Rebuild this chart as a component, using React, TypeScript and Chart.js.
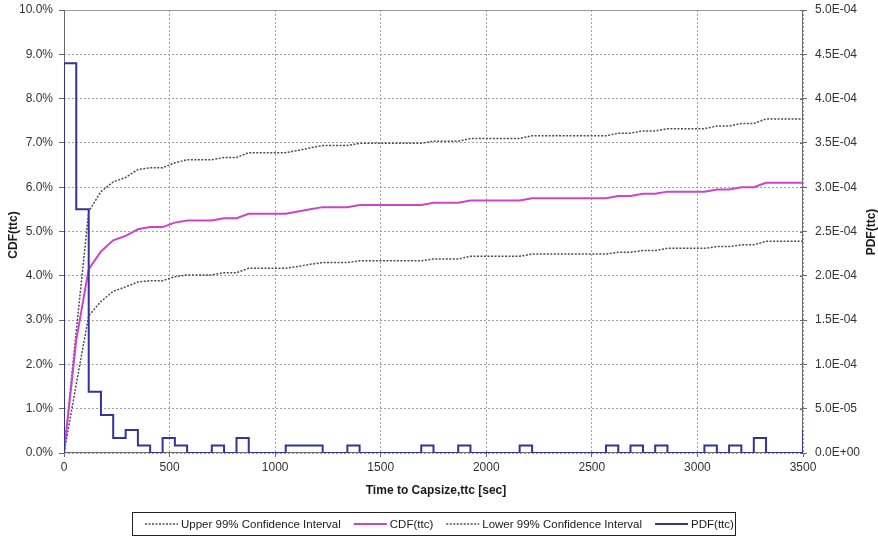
import { useEffect, useRef } from 'react';
import { Chart, registerables } from 'chart.js';

Chart.register(...registerables);

// ---- Data ----
const timeSec = [
  0, 58, 117, 175, 233, 292, 350, 408, 467, 525,
  583, 642, 700, 758, 817, 875, 933, 992, 1050, 1108,
  1167, 1225, 1283, 1342, 1400, 1458, 1517, 1575, 1633, 1692,
  1750, 1808, 1867, 1925, 1983, 2042, 2100, 2158, 2217, 2275,
  2333, 2392, 2450, 2508, 2567, 2625, 2683, 2742, 2800, 2858,
  2917, 2975, 3033, 3092, 3150, 3208, 3267, 3325, 3383, 3442,
  3500,
];

const cdfPct = [
  0, 2.55, 4.15, 4.55, 4.8, 4.9, 5.05, 5.1, 5.1, 5.2,
  5.25, 5.25, 5.25, 5.3, 5.3, 5.4, 5.4, 5.4, 5.4, 5.45,
  5.5, 5.55, 5.55, 5.55, 5.6, 5.6, 5.6, 5.6, 5.6, 5.6,
  5.65, 5.65, 5.65, 5.7, 5.7, 5.7, 5.7, 5.7, 5.75, 5.75,
  5.75, 5.75, 5.75, 5.75, 5.75, 5.8, 5.8, 5.85, 5.85, 5.9,
  5.9, 5.9, 5.9, 5.95, 5.95, 6.0, 6.0, 6.1, 6.1, 6.1,
  6.1,
];

const upperPct = [
  0, 2.75, 5.45, 5.9, 6.12, 6.22, 6.4, 6.44, 6.44, 6.55,
  6.62, 6.62, 6.62, 6.67, 6.67, 6.78, 6.78, 6.78, 6.78, 6.83,
  6.89, 6.94, 6.94, 6.94, 6.99, 6.99, 6.99, 6.99, 6.99, 6.99,
  7.04, 7.04, 7.04, 7.1, 7.1, 7.1, 7.1, 7.1, 7.16, 7.16,
  7.16, 7.16, 7.16, 7.16, 7.16, 7.22, 7.22, 7.27, 7.27, 7.32,
  7.32, 7.32, 7.32, 7.38, 7.38, 7.44, 7.44, 7.54, 7.54, 7.54,
  7.54,
];

const lowerPct = [
  0, 1.55, 3.1, 3.42, 3.65, 3.75, 3.86, 3.89, 3.89, 3.98,
  4.02, 4.02, 4.02, 4.07, 4.07, 4.17, 4.17, 4.17, 4.17, 4.21,
  4.26, 4.3, 4.3, 4.3, 4.34, 4.34, 4.34, 4.34, 4.34, 4.34,
  4.38, 4.38, 4.38, 4.44, 4.44, 4.44, 4.44, 4.44, 4.49, 4.49,
  4.49, 4.49, 4.49, 4.49, 4.49, 4.53, 4.53, 4.57, 4.57, 4.62,
  4.62, 4.62, 4.62, 4.66, 4.66, 4.7, 4.7, 4.78, 4.78, 4.78,
  4.78,
];

// PDF value held from timeSec[i] to timeSec[i+1]
const pdfValues = [
  4.4e-4, 2.75e-4, 6.9e-5, 4.3e-5, 1.7e-5, 2.6e-5, 8.6e-6, 0, 1.7e-5, 8.6e-6,
  0, 0, 8.6e-6, 0, 1.7e-5, 0, 0, 0, 8.6e-6, 8.6e-6,
  8.6e-6, 0, 0, 8.6e-6, 0, 0, 0, 0, 0, 8.6e-6,
  0, 0, 8.6e-6, 0, 0, 0, 0, 8.6e-6, 0, 0,
  0, 0, 0, 0, 8.6e-6, 0, 8.6e-6, 0, 8.6e-6, 0,
  0, 0, 8.6e-6, 0, 8.6e-6, 0, 1.7e-5, 0, 0, 0,
  2.6e-5,
];

const xTickLabels = ['0', '500', '1000', '1500', '2000', '2500', '3000', '3500'];
const yLeftTickLabels = ['0.0%', '1.0%', '2.0%', '3.0%', '4.0%', '5.0%', '6.0%', '7.0%', '8.0%', '9.0%', '10.0%'];
const yRightTickLabels = ['0.0E+00', '5.0E-05', '1.0E-04', '1.5E-04', '2.0E-04', '2.5E-04', '3.0E-04', '3.5E-04', '4.0E-04', '4.5E-04', '5.0E-04'];

const seriesLabels = ['Upper 99% Confidence Interval', 'CDF(ttc)', 'Lower 99% Confidence Interval', 'PDF(ttc)'];
const xTitle = 'Time to Capsize,ttc [sec]';
const yLeftTitle = 'CDF(ttc)';
const yRightTitle = 'PDF(ttc)';

const FONT = '"Liberation Sans", Arial, sans-serif';
const CI_COLOR = '#4d4d4d';
const CDF_COLOR = '#cc44cc';
const PDF_COLOR = '#333399';
const TICK_COLOR = '#333333';

const pts = (ys: number[]) => timeSec.map((t, i) => ({ x: t, y: ys[i] }));

const decorPlugin = {
  id: 'decor',
  beforeDatasetsDraw(chart: any) {
    const { ctx, chartArea: a } = chart;
    ctx.save();
    ctx.setLineDash([]);
    ctx.lineWidth = 1;
    ctx.strokeStyle = '#9a9a9a';
    ctx.beginPath();
    ctx.moveTo(a.left, Math.round(a.top) + 0.5);
    ctx.lineTo(a.right, Math.round(a.top) + 0.5);
    ctx.stroke();
    ctx.strokeStyle = '#6a6a6a';
    ctx.beginPath();
    ctx.moveTo(Math.round(a.left) + 0.5, a.top);
    ctx.lineTo(Math.round(a.left) + 0.5, a.bottom);
    ctx.moveTo(Math.round(a.right) - 0.5, a.top);
    ctx.lineTo(Math.round(a.right) - 0.5, a.bottom);
    ctx.moveTo(a.left, Math.round(a.bottom) - 0.5);
    ctx.lineTo(a.right, Math.round(a.bottom) - 0.5);
    ctx.stroke();
    // right-axis tick marks crossing slightly into the plot
    const y2 = chart.scales.y2;
    ctx.beginPath();
    y2.ticks.forEach((t: any) => {
      const y = Math.round(y2.getPixelForValue(t.value)) + 0.5;
      ctx.moveTo(a.right - 3, y);
      ctx.lineTo(a.right, y);
    });
    ctx.stroke();
    ctx.restore();
  },
  afterDraw(chart: any) {
    const { ctx } = chart;
    ctx.save();
    // axis titles
    ctx.fillStyle = '#1a1a1a';
    ctx.font = 'bold 12px ' + FONT;
    ctx.textAlign = 'center';
    ctx.textBaseline = 'middle';
    ctx.save();
    ctx.translate(14, 235);
    ctx.rotate(-Math.PI / 2);
    ctx.fillText(yLeftTitle, 0, 0);
    ctx.restore();
    ctx.save();
    ctx.translate(872, 232);
    ctx.rotate(-Math.PI / 2);
    ctx.fillText(yRightTitle, 0, 0);
    ctx.restore();
    ctx.fillText(xTitle, 436, 491);

    // legend
    ctx.font = '11.5px ' + FONT;
    ctx.textAlign = 'left';
    const ds = chart.data.datasets;
    const sample = 33, gapIn = 3, gapOut = 13;
    const boxX = 132.5, boxY = 512.5, boxW = 603, boxH = 23;
    ctx.strokeStyle = '#222';
    ctx.lineWidth = 1;
    ctx.setLineDash([]);
    ctx.strokeRect(boxX, boxY, boxW, boxH);
    let x = 145;
    const cy = 524;
    ds.forEach((d: any) => {
      ctx.save();
      ctx.strokeStyle = d.borderColor;
      ctx.lineWidth = d.borderWidth;
      ctx.setLineDash(d.borderDash || []);
      ctx.beginPath();
      ctx.moveTo(x, cy);
      ctx.lineTo(x + sample, cy);
      ctx.stroke();
      ctx.restore();
      ctx.fillStyle = '#1a1a1a';
      ctx.fillText(d.label, x + sample + gapIn, cy + 0.5);
      x += sample + gapIn + ctx.measureText(d.label).width + gapOut;
    });
    ctx.restore();
  },
};

const zeroPad = (s: any) => {
  s.paddingTop = 0;
  s.paddingBottom = 0;
  s.paddingLeft = 0;
  s.paddingRight = 0;
};

export default function App() {
  const ref = useRef<HTMLCanvasElement>(null);

  useEffect(() => {
    document.body.style.margin = '0';
    const canvas = ref.current;
    if (!canvas) return;
    const gridCommon = {
      color: '#a0a0a0',
      lineWidth: 1,
      borderDash: [2, 2],
      tickBorderDash: [],
      tickColor: '#6a6a6a',
      tickLength: 5,
      drawTicks: true,
    };
    const chart = new Chart(canvas, {
      type: 'line',
      data: {
        datasets: [
          {
            label: seriesLabels[0],
            data: pts(upperPct),
            borderColor: CI_COLOR,
            borderWidth: 1.5,
            borderDash: [2, 1.5],
            pointRadius: 0,
            yAxisID: 'y',
            order: 2,
          },
          {
            label: seriesLabels[1],
            data: pts(cdfPct),
            borderColor: CDF_COLOR,
            borderWidth: 2,
            pointRadius: 0,
            yAxisID: 'y',
            order: 1,
          },
          {
            label: seriesLabels[2],
            data: pts(lowerPct),
            borderColor: CI_COLOR,
            borderWidth: 1.5,
            borderDash: [2, 1.5],
            pointRadius: 0,
            yAxisID: 'y',
            order: 3,
          },
          {
            label: seriesLabels[3],
            data: [{ x: timeSec[0], y: 0 }, ...timeSec.map((t, i) => ({ x: t, y: pdfValues[i] }))],
            borderColor: PDF_COLOR,
            borderWidth: 2,
            stepped: 'before',
            pointRadius: 0,
            yAxisID: 'y2',
            order: 0,
          },
        ] as any,
      },
      options: {
        responsive: false,
        animation: false,
        layout: { padding: { top: 10, left: 0, right: 0, bottom: 0 } },
        plugins: {
          legend: { display: false },
          tooltip: { enabled: false },
          title: { display: false },
        },
        elements: { point: { radius: 0 }, line: { tension: 0 } },
        scales: {
          x: {
            type: 'linear',
            min: 0,
            max: 3500,
            grid: { ...gridCommon, tickLength: 4 },
            border: { display: false, dash: [2, 2] },
            ticks: {
              stepSize: 500,
              color: TICK_COLOR,
              font: { family: FONT, size: 12 },
              padding: 3,
              maxRotation: 0,
              callback: (_v: any, i: number) => xTickLabels[i],
            },
            afterFit: (s: any) => {
              s.height = 86;
              zeroPad(s);
            },
          },
          y: {
            type: 'linear',
            position: 'left',
            min: 0,
            max: 10,
            grid: gridCommon,
            border: { display: false, dash: [2, 2] },
            ticks: {
              stepSize: 1,
              color: TICK_COLOR,
              font: { family: FONT, size: 12 },
              padding: 6,
              callback: (_v: any, i: number) => yLeftTickLabels[i],
            },
            afterFit: (s: any) => {
              s.width = 64;
              zeroPad(s);
            },
          },
          y2: {
            type: 'linear',
            position: 'right',
            min: 0,
            max: 5e-4,
            grid: { ...gridCommon, drawOnChartArea: false, tickLength: 4 },
            border: { display: false },
            ticks: {
              stepSize: 5e-5,
              color: TICK_COLOR,
              font: { family: FONT, size: 12 },
              padding: 8,
              callback: (_v: any, i: number) => yRightTickLabels[i],
            },
            afterFit: (s: any) => {
              s.width = 75;
              zeroPad(s);
            },
          },
        },
      } as any,
      plugins: [decorPlugin],
    });
    return () => chart.destroy();
  }, []);

  return (
    <div style={{ position: 'absolute', left: 0, top: 0, width: 878, height: 539, background: '#fff' }}>
      <canvas ref={ref} width={878} height={539} style={{ display: 'block' }} />
    </div>
  );
}
